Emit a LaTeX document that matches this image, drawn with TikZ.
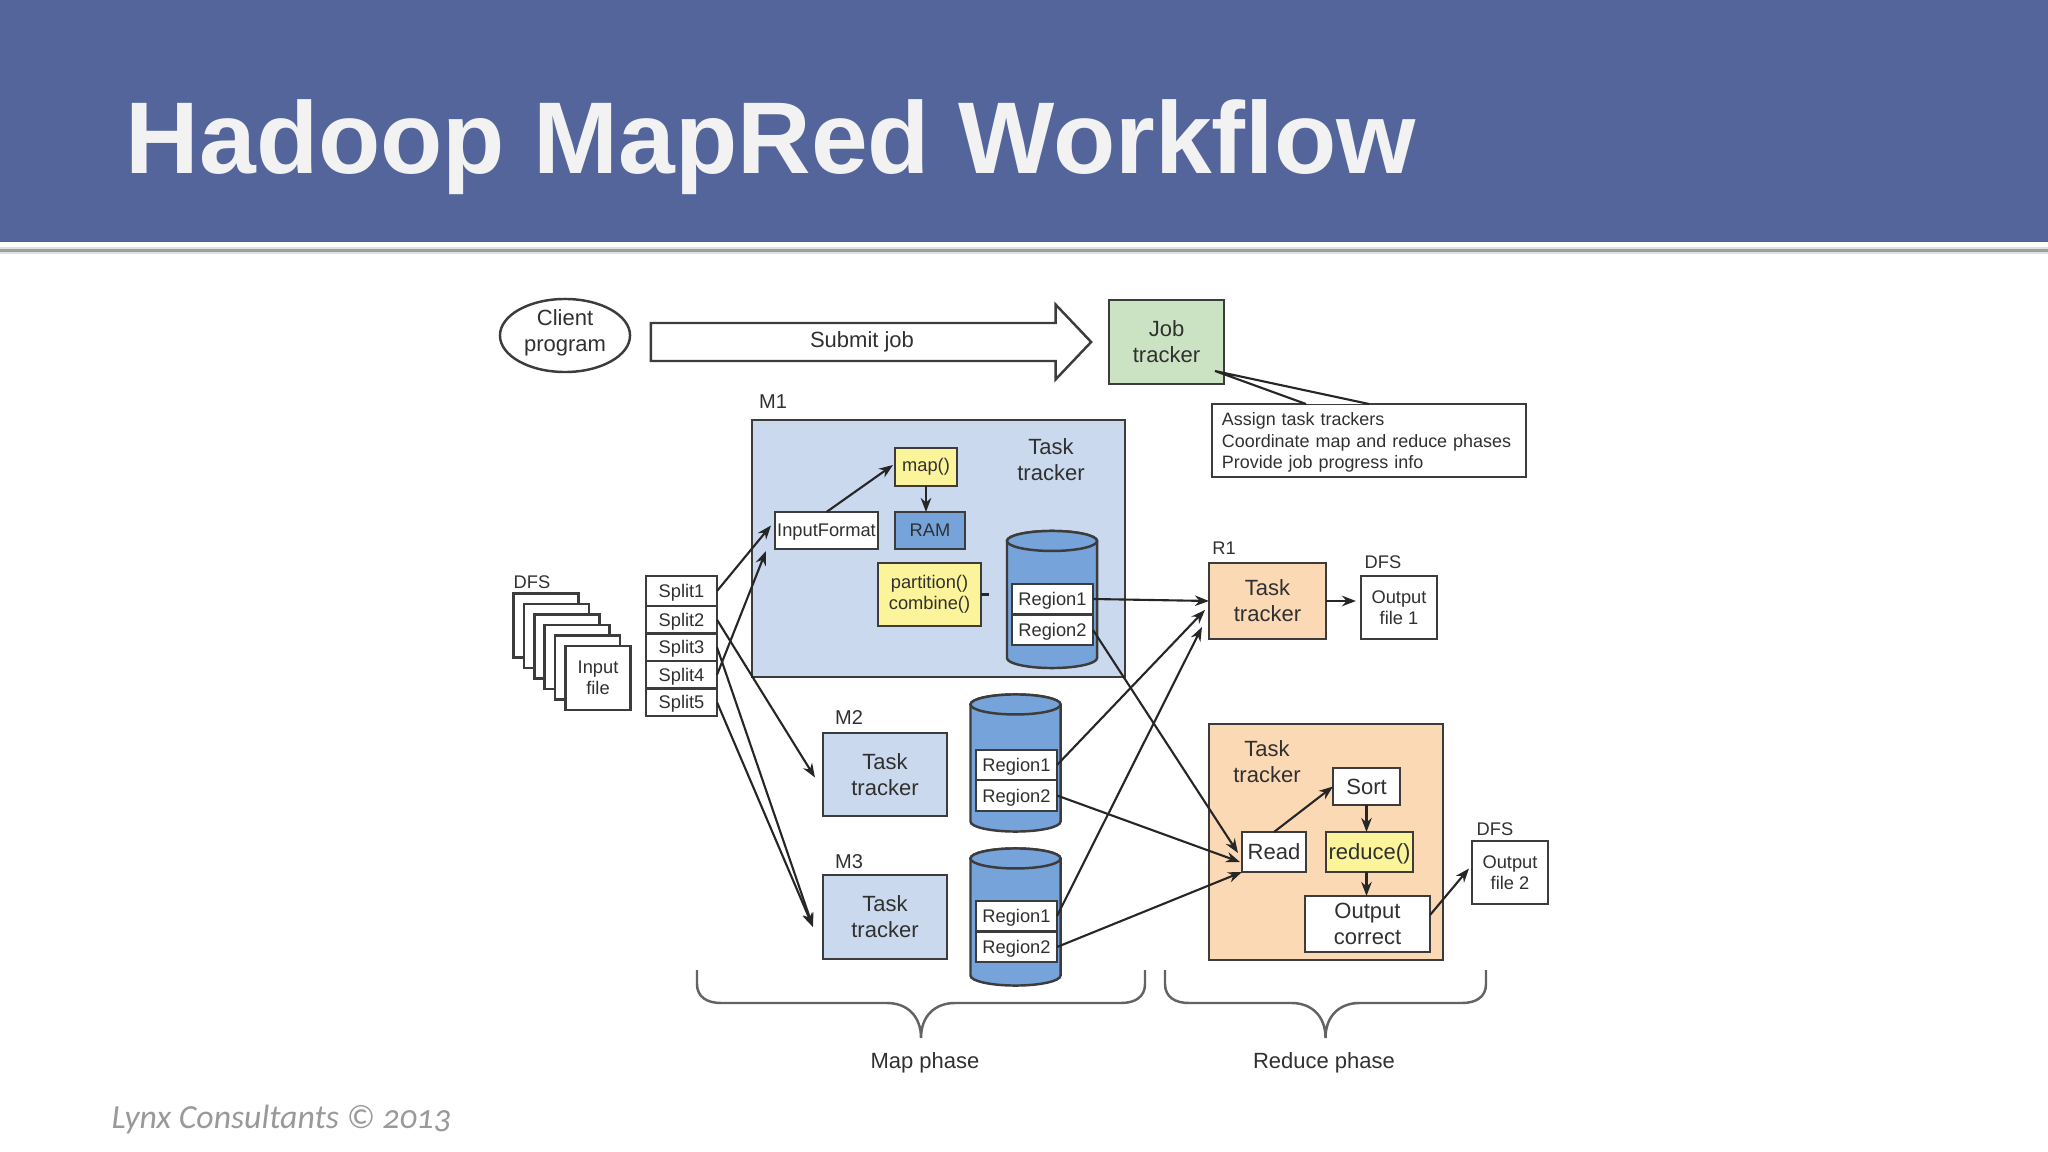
\documentclass[tikz,border=0pt]{standalone}
\usepackage{fontspec}
\setmainfont{Liberation Sans}
\newfontfamily\footerfont[Numbers=OldStyle]{Carlito}
\usetikzlibrary{arrows.meta,calc,positioning,shapes.geometric,shapes.arrows}

\definecolor{bandblue}{HTML}{53659B}
\definecolor{lineGrey}{HTML}{3C3C3C}
\definecolor{textGrey}{HTML}{303030}
\definecolor{taskBlue}{HTML}{CBD9EE}
\definecolor{diskBlue}{HTML}{76A3D9}
\definecolor{mapYellow}{HTML}{FBF49A}
\definecolor{taskOrange}{HTML}{FBD9B5}
\definecolor{jobGreen}{HTML}{CBE3C3}

\tikzset{%
  % Specifications for style of nodes:
         base/.style =    { rectangle, draw=lineGrey, line width=0.7pt, inner sep=0pt, outer sep=0pt, align=center, text=textGrey, font=\fontsize{5.2pt}{6.1pt}\selectfont },
         big/.style =     { base, font=\fontsize{6.26pt}{7.4pt}\selectfont },
         label/.style =   { inner sep=0pt, align=center, text=textGrey, font=\fontsize{5.2pt}{6.1pt}\selectfont },
         biglabel/.style ={ label, font=\fontsize{6.26pt}{7.4pt}\selectfont },
         task/.style =    { big, fill=taskBlue },
         split/.style =   { base, fill=white, text depth=0pt, minimum width=0.71cm, minimum height=0.275cm },
         sheet/.style =   { base, fill=white, minimum width=0.65cm, minimum height=0.64cm },
         region/.style =  { base, fill=white, text depth=0pt, minimum width=0.81cm, minimum height=0.305cm },
         disk/.style =    { rectangle, inner sep=0pt, outer sep=0pt, minimum width=0.9cm, minimum height=1.37cm },
         diskline/.style ={ draw=lineGrey, line width=0.7pt, fill=diskBlue },
         flow/.style =    { -{Stealth[length=4pt,width=3pt]}, line width=0.6pt, draw=black!85 },
         phase/.style =   { draw=lineGrey!80, line width=0.7pt },
}

% cylinder drawn round a named node
\newcommand{\diskbody}[1]{%
    \draw[diskline] ($(#1.north west)+(0,10)$) -- ($(#1.south west)+(0,-10)$)
        arc[start angle=180, end angle=360, x radius=0.45cm, y radius=0.1cm]
        -- ($(#1.north east)+(0,10)$)
        arc[start angle=0, end angle=180, x radius=0.45cm, y radius=0.1cm] -- cycle;
    \draw[diskline] ($(#1.north)+(0,10)$) ellipse[x radius=0.45cm, y radius=0.1cm];
}
% curly bracket under a phase
\newcommand{\phasebrace}[2]{%
    \draw[phase] (#1) -- ++(0,14) .. controls +(0,13) and +(-14,0) .. ++(24,19)
        -- ($(#1)!.5!(#2)+(-34,33)$) .. controls +(20,0) and +(0,-22) .. ($(#1)!.5!(#2)+(0,68)$)
        .. controls +(0,-22) and +(-20,0) .. ($(#1)!.5!(#2)+(34,33)$)
        -- ($(#2)+(-24,33)$) .. controls +(14,0) and +(0,13) .. ($(#2)+(0,14)$) -- (#2);
}

\begin{document}
\begin{tikzpicture}[x=0.01cm, y=-0.01cm]
    \useasboundingbox (0,0) rectangle (2048,1152);

    % Draw title band
    \fill[bandblue]   (0,0) rectangle (2048,242);
    \fill[black!12]   (0,247) rectangle (2048,254);
    \fill[black!38]   (0,249) rectangle (2048,252);
    \node (title)     [anchor=west, inner sep=0pt, text=white!95!black, font=\fontsize{29pt}{35pt}\bfseries\selectfont] at (125,147) {Hadoop MapRed Workflow};
    \node (footer)    [anchor=west, inner sep=0pt, text=black!40, font=\fontsize{9.6pt}{11pt}\footerfont\itshape] at (111,1119) {Lynx Consultants © 2013};

    % Draw client and job tracker
    \node (client)    [big, ellipse, minimum width=1.30cm, minimum height=0.73cm, text depth=0.09cm] at (565,335.5) {Client\\program};
    \node (submit)    [big, single arrow, single arrow tip angle=93, single arrow head extend=0.185cm, single arrow head indent=0pt,
                       inner xsep=0pt, inner ysep=0.075cm, minimum height=4.4cm, minimum width=0.74cm] at (862,342) {Submit job};
    \node (job)       [big, fill=jobGreen, minimum width=1.15cm, minimum height=0.84cm] at (1166.5,342) {Job\\tracker};
    \node (note)      [base, fill=white, minimum width=3.14cm, minimum height=0.73cm, align=left, text width=2.94cm, font=\fontsize{5.1pt}{6.1pt}\selectfont] at (1369,440.5)
                      {\rule{0pt}{0.17cm}Assign task trackers\\Coordinate map and reduce phases\\Provide job progress info};

    % Draw input files
    \node (dfsin)     [label] at (532,582) {DFS};
    \node (sheet1)    [sheet] at (546,625.5) {};
    \node (sheet2)    [sheet] at (556.4,636) {};
    \node (sheet3)    [sheet] at (566.8,646.6) {};
    \node (sheet4)    [sheet] at (577.2,657) {};
    \node (sheet5)    [sheet] at (587.6,667.6) {};
    \node (sheet6)    [sheet] at (598,678) {Input\\file};

    % Draw splits
    \node (split1)    [split, minimum height=0.3cm] at (681.5,591) {Split1};
    \node (split2)    [split, below=0pt of split1] {Split2};
    \node (split3)    [split, below=0pt of split2] {Split3};
    \node (split4)    [split, below=0pt of split3] {Split4};
    \node (split5)    [split, below=0pt of split4] {Split5};

    % Draw M1
    \node (m1label)   [biglabel, font=\fontsize{5.7pt}{7pt}\selectfont] at (773,402) {M1};
    \node (m1)        [task, minimum width=3.73cm, minimum height=2.57cm] at (938.5,548.5) {};
    \node (m1task)    [biglabel] at (1051,460) {Task\\tracker};
    \node (map)       [base, fill=mapYellow, minimum width=0.62cm, minimum height=0.38cm] at (926,467) {map()};
    \node (ram)       [base, fill=diskBlue, minimum width=0.70cm, minimum height=0.37cm] at (930,530.5) {RAM};
    \node (inputfmt)  [base, fill=white, text depth=0pt, minimum width=1.03cm, minimum height=0.37cm] at (826.5,530.5) {InputFormat};
    \node (partition) [base, fill=mapYellow, minimum width=1.03cm, minimum height=0.63cm] at (929.5,594.5) {partition()\\combine()};
    \node (disk1)     [disk] at (1052,599.5) {};
    \diskbody{disk1}
    \node (m1r1)      [region] at (1052.5,599) {Region1};
    \node (m1r2)      [region] at (1052.5,630) {Region2};

    % Draw M2 and M3
    \node (m2label)   [biglabel, font=\fontsize{5.7pt}{7pt}\selectfont] at (849,717) {M2};
    \node (m2)        [task, minimum width=1.24cm, minimum height=0.83cm] at (885,774.5) {Task\\tracker};
    \node (disk2)     [disk] at (1015.5,763) {};
    \diskbody{disk2}
    \node (m2r1)      [region] at (1016.5,765) {Region1};
    \node (m2r2)      [region] at (1016.5,795.5) {Region2};
    \node (m3label)   [biglabel, font=\fontsize{5.7pt}{7pt}\selectfont] at (849,862) {M3};
    \node (m3)        [task, minimum width=1.24cm, minimum height=0.84cm] at (885,917) {Task\\tracker};
    \node (disk3)     [disk] at (1015.5,917) {};
    \diskbody{disk3}
    \node (m3r1)      [region] at (1016.5,916) {Region1};
    \node (m3r2)      [region] at (1016.5,947) {Region2};

    % Draw R1
    \node (r1label)   [label] at (1224,548) {R1};
    \node (r1)        [big, fill=taskOrange, minimum width=1.17cm, minimum height=0.76cm] at (1267.5,601) {Task\\tracker};
    \node (dfsone)    [label] at (1383,562) {DFS};
    \node (out1)      [base, fill=white, minimum width=0.76cm, minimum height=0.63cm] at (1399,607.5) {Output\\file 1};

    % Draw reducer
    \node (r2)        [big, fill=taskOrange, minimum width=2.34cm, minimum height=2.36cm] at (1326,842) {};
    \node (r2task)    [biglabel] at (1267,762) {Task\\tracker};
    \node (sort)      [big, fill=white, minimum width=0.67cm, minimum height=0.37cm] at (1366.5,786.5) {Sort};
    \node (read)      [big, fill=white, minimum width=0.64cm, minimum height=0.40cm] at (1274,852) {Read};
    \node (reduce)    [big, fill=mapYellow, text depth=0pt, minimum width=0.87cm, minimum height=0.40cm] at (1369.5,852) {reduce()};
    \node (correct)   [big, fill=white, minimum width=1.25cm, minimum height=0.56cm] at (1367.5,924) {Output\\correct};
    \node (dfstwo)    [label] at (1495,829) {DFS};
    \node (out2)      [base, fill=white, minimum width=0.76cm, minimum height=0.63cm] at (1510,872.5) {Output\\file 2};

    % Draw phases
    \coordinate (mapl)  at (697,970);
    \coordinate (mapr)  at (1145,970);
    \coordinate (redl)  at (1165,970);
    \coordinate (redr)  at (1486,970);
    \phasebrace{mapl}{mapr}
    \phasebrace{redl}{redr}
    \node (mapphase)  [biglabel] at (925,1063) {Map phase};
    \node (redphase)  [biglabel] at (1324,1063) {Reduce phase};

    % Draw callout
    \coordinate (tip)   at (1215,371);
    \coordinate (basel) at (1306,404);
    \coordinate (baser) at (1369,404);
    \fill[white]      (tip) -- (basel) -- (baser) -- cycle;
    \draw[line width=0.6pt, black!85] (basel) -- (tip) -- (baser);

    % Draw arrows
    \draw[flow]       (split1.east) -- ([shift={(-4,-5)}]inputfmt.west);
    \draw[flow]       (split4.east) -- ([shift={(-9,2)}]inputfmt.south west);
    \draw[flow]       (split2.east) -- ([shift={(-8,3)}]m2.west);
    \draw[flow]       (split3.east) -- ([shift={(-10,10)}]m3.west);
    \draw[flow]       (split5.east) -- ([shift={(-10,10)}]m3.west);
    \draw[flow]       (inputfmt.north) -- ([shift={(-2,-2)}]map.west);
    \draw[flow]       (map.south) -- (map.south |- ram.north);
    \draw[line width=0.6pt, black!85] (partition.east) -- ++(8,0);

    \draw[flow]       (m1r1.east) -- (r1.west);
    \draw[flow]       (m2r1.east) -- ([shift={(-4,9)}]r1.west);
    \draw[flow]       (m3r1.east) -- ([shift={(-7,26)}]r1.west);
    \draw[flow]       (m1r2.east) -- ([shift={(-4,1)}]read.west);
    \draw[flow]       (m2r2.east) -- ([shift={(-2,10)}]read.west);
    \draw[flow]       (m3r2.east) -- ([shift={(0,20)}]read.west);

    \draw[flow]       (r1.east) -- ([xshift=-5*0.01cm]r1.east -| out1.west);
    \draw[flow]       (read.north) -- (sort.west);
    \draw[flow]       (sort.south) -- (sort.south |- reduce.north);
    \draw[flow]       (reduce.south -| sort.south) -- (sort.south |- correct.north);
    \draw[flow]       ([shift={(0,-9)}]correct.east) -- ([shift={(-3,-4)}]out2.west);
\end{tikzpicture}
\end{document}
